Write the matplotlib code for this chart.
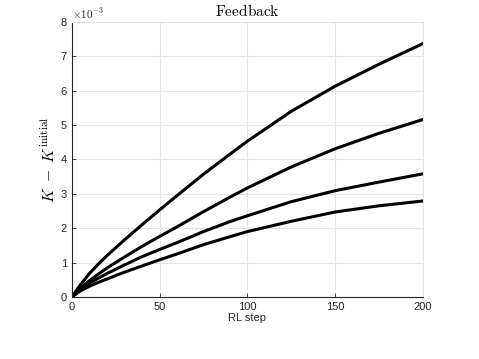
import numpy as np
import matplotlib
matplotlib.use("Agg")
import matplotlib.pyplot as plt

plt.rcParams['font.family'] = ['Liberation Sans', 'DejaVu Sans']
plt.rcParams['mathtext.fontset'] = 'cm'

# RL step and K - K_initial (in units of 1e-3)
steps = [0, 5, 10, 15, 20, 30, 40, 50, 60, 75, 90, 100, 125, 150, 175, 200]
k_run1 = [0, 0.36, 0.68, 0.95, 1.20, 1.66, 2.10, 2.53, 2.95, 3.57, 4.15, 4.53, 5.40, 6.13, 6.77, 7.37]
k_run2 = [0, 0.26, 0.47, 0.66, 0.84, 1.16, 1.47, 1.76, 2.04, 2.48, 2.90, 3.17, 3.78, 4.31, 4.76, 5.16]
k_run3 = [0, 0.22, 0.40, 0.54, 0.68, 0.93, 1.17, 1.38, 1.58, 1.90, 2.19, 2.36, 2.77, 3.09, 3.34, 3.58]
k_run4 = [0, 0.18, 0.31, 0.42, 0.52, 0.72, 0.90, 1.08, 1.25, 1.52, 1.75, 1.90, 2.20, 2.47, 2.65, 2.79]

fig = plt.figure(figsize=(4.79, 3.59), dpi=100)
ax = fig.add_axes([0.150, 0.173, 0.733, 0.766])

for run in [k_run1, k_run2, k_run3, k_run4]:
    ax.plot(steps, np.array(run) * 1e-3, color='black', linewidth=2.2)

ax.set_xlim(0, 200)
ax.set_ylim(0, 8e-3)
ax.set_xticks([0, 50, 100, 150, 200])
ax.set_yticks(np.arange(0, 9) * 1e-3)
ax.set_yticklabels([str(i) for i in range(9)])
ax.grid(True, color='#e3e3e3', linewidth=0.8)
ax.set_axisbelow(True)
ax.tick_params(direction='in', length=3, labelsize=8, colors='#262626', width=0.6)
for s in ['left', 'bottom']:
    ax.spines[s].set_color('#262626')
    ax.spines[s].set_linewidth(0.8)
for s in ['top', 'right']:
    ax.spines[s].set_color('#e3e3e3')
    ax.spines[s].set_linewidth(0.8)

ax.text(0.0, 1.005, r'$\times 10^{\mathsf{-3}}$', transform=ax.transAxes,
        fontsize=8, color='#262626', ha='left', va='bottom')
ax.set_title(r'$\mathrm{Feedback}$', fontsize=11, pad=4)
ax.set_xlabel('RL step', fontsize=8, labelpad=1, color='#262626')
ax.set_ylabel(r'$K\ -\ K^{\mathrm{initial}}$', fontsize=11.5, labelpad=2)

fig.savefig('out.png', dpi=100)
